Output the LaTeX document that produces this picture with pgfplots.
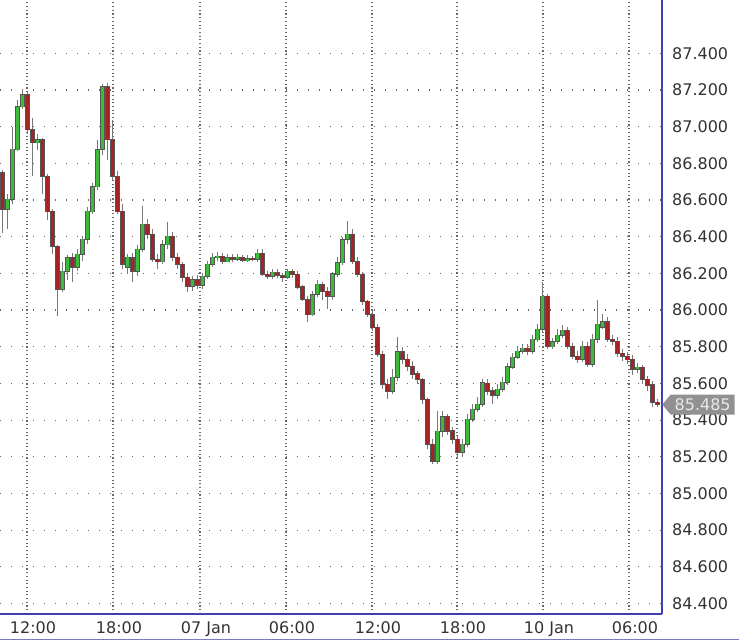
\documentclass[border=0pt]{standalone}
\usepackage{fontspec}
\setmainfont{DejaVu Sans}
\usepackage{pgfplots}
\pgfplotsset{compat=1.18}
\usepackage{pgfplotstable}
\usetikzlibrary{shapes.symbols}

\definecolor{cgreen}{RGB}{62,186,58}
\definecolor{cred}{RGB}{165,35,35}
\definecolor{cedge}{RGB}{85,85,85}
\definecolor{cwick}{RGB}{120,120,120}
\definecolor{cblue}{RGB}{64,64,176}
\definecolor{cgrid}{RGB}{105,105,105}
\definecolor{ctext}{RGB}{50,50,50}
\definecolor{cbox}{RGB}{145,145,145}
\definecolor{cboxtext}{RGB}{232,232,232}

\pgfplotstableread{
x o h l c
2.5 86.751 86.768 86.424 86.550
7.5 86.550 86.632 86.441 86.604
12.5 86.604 87.002 86.577 86.877
17.5 86.877 87.149 86.866 87.111
22.5 87.111 87.204 87.095 87.177
27.5 87.177 87.193 86.959 86.986
32.5 86.986 87.051 86.730 86.915
37.5 86.915 86.959 86.877 86.931
42.5 86.931 86.942 86.632 86.730
47.5 86.730 86.741 86.495 86.539
52.5 86.539 86.550 86.305 86.348
57.5 86.348 86.359 85.967 86.114
62.5 86.114 86.266 86.103 86.212
67.5 86.212 86.305 86.168 86.288
72.5 86.288 86.315 86.157 86.234
77.5 86.234 86.332 86.212 86.305
82.5 86.305 86.403 86.266 86.386
87.5 86.386 86.561 86.359 86.539
92.5 86.539 86.697 86.523 86.675
97.5 86.675 86.931 86.659 86.877
102.5 86.877 87.237 86.850 87.220
107.5 87.220 87.237 86.822 86.931
112.5 86.931 87.040 86.713 86.730
117.5 86.730 86.757 86.523 86.539
122.5 86.539 86.577 86.223 86.250
127.5 86.234 86.305 86.196 86.288
132.5 86.288 86.315 86.157 86.212
137.5 86.212 86.359 86.190 86.332
142.5 86.332 86.566 86.315 86.468
147.5 86.468 86.495 86.386 86.414
152.5 86.414 86.441 86.261 86.277
157.5 86.277 86.305 86.223 86.266
162.5 86.266 86.386 86.250 86.359
167.5 86.359 86.484 86.332 86.403
172.5 86.403 86.424 86.266 86.288
177.5 86.288 86.310 86.223 86.250
182.5 86.250 86.266 86.152 86.179
187.5 86.179 86.196 86.103 86.130
192.5 86.130 86.185 86.103 86.168
197.5 86.168 86.190 86.114 86.136
202.5 86.136 86.206 86.114 86.185
207.5 86.185 86.266 86.168 86.250
212.5 86.250 86.310 86.234 86.288
217.5 86.288 86.315 86.266 86.294
222.5 86.294 86.310 86.250 86.266
227.5 86.266 86.305 86.261 86.288
232.5 86.288 86.305 86.261 86.277
237.5 86.277 86.305 86.266 86.288
242.5 86.288 86.299 86.261 86.272
247.5 86.272 86.299 86.261 86.283
252.5 86.283 86.294 86.266 86.277
257.5 86.277 86.332 86.266 86.310
262.5 86.310 86.332 86.185 86.196
267.5 86.196 86.212 86.168 86.185
272.5 86.185 86.223 86.168 86.206
277.5 86.206 86.223 86.179 86.190
282.5 86.190 86.206 86.157 86.179
287.5 86.179 86.223 86.168 86.212
292.5 86.212 86.223 86.179 86.196
297.5 86.196 86.212 86.114 86.125
302.5 86.125 86.136 86.048 86.059
307.5 86.059 86.076 85.939 85.977
312.5 85.977 86.103 85.967 86.087
317.5 86.087 86.168 86.076 86.141
322.5 86.141 86.157 86.059 86.103
327.5 86.103 86.125 86.005 86.076
332.5 86.076 86.212 86.059 86.196
337.5 86.196 86.288 86.179 86.261
342.5 86.261 86.403 86.250 86.386
347.5 86.386 86.484 86.359 86.414
352.5 86.414 86.441 86.250 86.266
357.5 86.266 86.288 86.179 86.196
362.5 86.196 86.212 86.032 86.048
367.5 86.048 86.059 85.961 85.977
372.5 85.977 85.994 85.885 85.907
377.5 85.907 85.923 85.743 85.760
382.5 85.760 85.776 85.569 85.596
387.5 85.596 85.623 85.514 85.558
392.5 85.558 85.678 85.542 85.634
397.5 85.634 85.852 85.612 85.771
402.5 85.771 85.798 85.705 85.732
407.5 85.732 85.760 85.667 85.694
412.5 85.694 85.721 85.623 85.651
417.5 85.651 85.667 85.596 85.623
422.5 85.623 85.634 85.487 85.514
427.5 85.514 85.525 85.242 85.269
432.5 85.269 85.296 85.160 85.176
437.5 85.176 85.449 85.160 85.340
442.5 85.340 85.449 85.307 85.416
447.5 85.416 85.433 85.318 85.340
452.5 85.340 85.362 85.269 85.296
457.5 85.296 85.318 85.187 85.225
462.5 85.225 85.296 85.198 85.269
467.5 85.269 85.433 85.253 85.405
472.5 85.405 85.487 85.389 85.460
477.5 85.460 85.525 85.443 85.487
482.5 85.487 85.623 85.471 85.602
487.5 85.602 85.623 85.536 85.558
492.5 85.558 85.580 85.487 85.536
497.5 85.536 85.596 85.514 85.569
502.5 85.569 85.634 85.553 85.607
507.5 85.607 85.711 85.591 85.689
512.5 85.689 85.765 85.678 85.743
517.5 85.743 85.798 85.732 85.776
522.5 85.776 85.814 85.760 85.792
527.5 85.792 85.814 85.754 85.776
532.5 85.776 85.863 85.760 85.841
537.5 85.841 85.923 85.825 85.896
542.5 85.896 86.152 85.880 86.076
547.5 86.076 86.087 85.787 85.803
552.5 85.803 85.852 85.787 85.830
557.5 85.830 85.896 85.814 85.863
562.5 85.863 85.918 85.847 85.890
567.5 85.890 85.907 85.787 85.803
572.5 85.803 85.820 85.732 85.749
577.5 85.749 85.776 85.711 85.732
582.5 85.732 85.830 85.716 85.803
587.5 85.803 85.825 85.689 85.705
592.5 85.705 85.869 85.689 85.841
597.5 85.841 86.059 85.825 85.923
602.5 85.907 85.977 85.896 85.939
607.5 85.939 85.961 85.825 85.841
612.5 85.841 85.863 85.809 85.830
617.5 85.830 85.852 85.743 85.765
622.5 85.765 85.787 85.721 85.749
627.5 85.749 85.771 85.705 85.732
632.5 85.732 85.754 85.645 85.678
637.5 85.678 85.711 85.656 85.689
642.5 85.689 85.705 85.596 85.623
647.5 85.623 85.645 85.558 85.591
652.5 85.591 85.612 85.471 85.498
657.5 85.498 85.514 85.471 85.487
}\candles

\pgfplotsset{
  candlebar/.style n args={2}{forget plot, draw=none, mark=none,
    /pgfplots/error bars/y dir=both, /pgfplots/error bars/y explicit,
    /pgfplots/error bars/error mark=none,
    /pgfplots/error bars/error bar style={line width=#1, draw=#2, solid}},
}

\begin{document}
\begin{tikzpicture}
\useasboundingbox (0,-28pt) rectangle (739pt,614pt);
\begin{axis}[
  at={(0,0)}, anchor=south west,
  scale only axis, width=662pt, height=614pt,
  xmin=0, xmax=662, ymin=84.3428, ymax=87.6916,
  axis x line*=bottom, axis y line*=right,
  axis line style={draw=cblue, line width=1.5pt, -},
  xtick={27,113,200,286,372,457,543,629},
  xticklabels={12:00,18:00,07 Jan,06:00,12:00,18:00,10 Jan,06:00},
  ytick={84.4,84.6,84.8,85,85.2,85.4,85.6,85.8,86,86.2,86.4,86.6,86.8,87,87.2,87.4},
  yticklabels={84.400,84.600,84.800,85.000,85.200,85.400,85.600,85.800,86.000,86.200,86.400,86.600,86.800,87.000,87.200,87.400},
  yticklabel pos=right, xtick pos=bottom, ytick pos=right,
  major tick length=0pt,
  tick label style={font=\fontsize{16}{19}\selectfont, text=ctext},
  xticklabel style={anchor=base, yshift=-20pt, xshift=6pt},
  yticklabel style={anchor=west, inner sep=0pt, xshift=10pt},
  xmajorgrids, ymajorgrids,
  x grid style={cgrid, line width=1.1pt, dash pattern=on 1.1pt off 2.6pt},
  y grid style={cgrid, line width=1.3pt, dash pattern=on 1.3pt off 9.7pt},
  clip=false,
]
% wicks
\addplot[candlebar={1.5pt}{cwick}]
  table[x=x, y expr={(\thisrow{h}+\thisrow{l})/2}, y error expr={(\thisrow{h}-\thisrow{l})/2}] {\candles};
% body outlines
\addplot[candlebar={5.2pt}{cedge}]
  table[x=x, y expr={(\thisrow{o}+\thisrow{c})/2}, y error expr={abs(\thisrow{c}-\thisrow{o})/2+0.004}] {\candles};
% green bodies
\addplot[restrict expr to domain={\thisrow{c}-\thisrow{o}}{0:10}, candlebar={3.6pt}{cgreen}]
  table[x=x, y expr={(\thisrow{o}+\thisrow{c})/2}, y error expr={abs(\thisrow{c}-\thisrow{o})/2}] {\candles};
% red bodies
\addplot[restrict expr to domain={\thisrow{c}-\thisrow{o}}{-10:0}, candlebar={3.6pt}{cred}]
  table[x=x, y expr={(\thisrow{o}+\thisrow{c})/2}, y error expr={abs(\thisrow{c}-\thisrow{o})/2}] {\candles};
\coordinate (lastpt) at (axis cs:662,85.485);
\end{axis}
\node[signal, signal to=west, signal pointer angle=100, fill=cbox, text=cboxtext,
  font=\fontsize{16}{19}\selectfont, minimum height=20pt, inner xsep=4pt, inner ysep=0pt,
  anchor=west] at (lastpt) {85.485};
\draw[cblue!70, line width=1pt] (0,-26pt) -- (739pt,-26pt);
\end{tikzpicture}
\end{document}
